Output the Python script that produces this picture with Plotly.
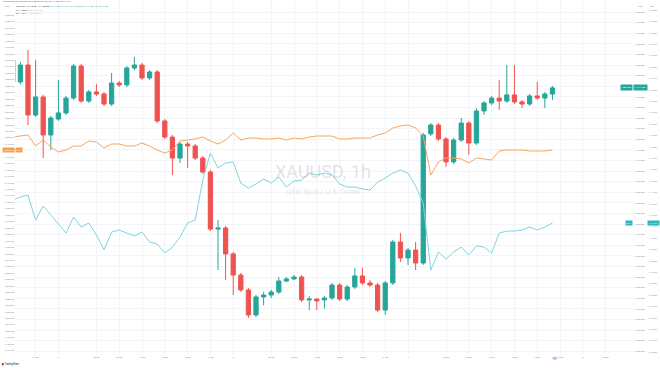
import plotly.graph_objects as go

# ---------------- data ----------------
bar_index = list(range(72))

xau_open = [1757.4, 1747.0, 1755.0, 1731.4, 1739.9, 1722.0, 1729.5, 1732.4, 1739.4, 1754.5,
            1738.0, 1742.3, 1741.3, 1736.6, 1746.5, 1745.6, 1753.6, 1755.0, 1748.9, 1751.7,
            1728.6, 1721.0, 1711.1, 1717.7, 1716.8, 1711.1, 1704.5, 1677.6, 1678.1, 1665.9,
            1655.9, 1648.9, 1637.1, 1645.6, 1646.5, 1647.9, 1653.1, 1654.1, 1655.0, 1644.2,
            1644.6, 1644.2, 1645.1, 1651.2, 1644.6, 1650.3, 1655.5, 1652.2, 1651.2, 1639.4,
            1652.2, 1671.5, 1664.0, 1667.7, 1661.6, 1722.5, 1726.7, 1720.1, 1709.3, 1719.6,
            1727.6, 1718.2, 1733.3, 1737.1, 1739.4, 1738.0, 1740.9, 1737.6, 1736.6, 1740.4,
            1739.4, 1741.3]
xau_high = [1758.5, 1756.5, 1762.1, 1757.4, 1741.0, 1731.0, 1747.9, 1740.4, 1755.5, 1755.5,
            1743.2, 1746.0, 1742.3, 1751.2, 1747.5, 1754.5, 1758.8, 1756.0, 1752.6, 1752.6,
            1729.5, 1722.0, 1718.7, 1718.7, 1717.7, 1712.1, 1705.5, 1681.9, 1679.0, 1666.8,
            1656.9, 1649.8, 1646.5, 1648.0, 1649.0, 1655.0, 1655.0, 1655.9, 1655.9, 1646.0,
            1645.1, 1646.0, 1652.2, 1652.2, 1651.2, 1659.3, 1659.3, 1653.6, 1652.2, 1653.1,
            1672.5, 1675.8, 1668.7, 1671.5, 1723.0, 1727.6, 1727.6, 1721.0, 1720.6, 1730.0,
            1728.6, 1734.7, 1738.0, 1740.4, 1747.9, 1755.0, 1755.0, 1738.5, 1741.3, 1747.0,
            1742.3, 1745.1]
xau_low = [1745.5, 1745.8, 1726.7, 1730.5, 1711.1, 1714.9, 1728.6, 1731.4, 1738.5, 1737.1,
           1737.1, 1740.4, 1735.7, 1735.7, 1744.6, 1744.6, 1752.6, 1747.9, 1747.9, 1727.6,
           1720.1, 1703.1, 1708.8, 1706.4, 1710.2, 1703.6, 1676.7, 1658.3, 1653.6, 1646.5,
           1647.9, 1635.7, 1636.1, 1641.7, 1645.0, 1647.0, 1652.6, 1653.6, 1643.2, 1639.4,
           1639.4, 1640.0, 1644.2, 1643.7, 1643.7, 1649.3, 1651.2, 1650.3, 1638.5, 1637.1,
           1651.2, 1662.1, 1660.7, 1658.3, 1660.7, 1721.5, 1719.2, 1706.9, 1708.3, 1718.7,
           1712.6, 1717.3, 1731.4, 1736.1, 1733.8, 1737.1, 1736.6, 1734.7, 1735.7, 1738.5,
           1734.7, 1738.5]
xau_close = [1747.0, 1755.0, 1731.4, 1739.9, 1722.0, 1730.0, 1732.4, 1739.4, 1754.5, 1738.0,
             1742.3, 1741.3, 1736.6, 1746.5, 1745.6, 1753.6, 1755.0, 1748.9, 1751.7, 1728.6,
             1721.0, 1711.1, 1717.7, 1716.8, 1711.1, 1704.5, 1677.6, 1678.1, 1665.9, 1655.9,
             1648.9, 1637.1, 1645.6, 1646.5, 1647.9, 1653.1, 1654.1, 1655.0, 1644.2, 1644.6,
             1643.7, 1645.1, 1651.2, 1644.6, 1650.3, 1655.5, 1652.2, 1651.2, 1639.4, 1652.2,
             1671.5, 1664.0, 1667.7, 1661.6, 1722.0, 1726.7, 1720.1, 1709.3, 1719.6, 1727.6,
             1718.2, 1733.3, 1737.1, 1739.4, 1738.0, 1740.9, 1737.6, 1736.6, 1740.4, 1739.4,
             1741.3, 1744.2]

spx_close = [3800.9, 3802.4, 3804.0, 3786.9, 3796.2, 3785.4, 3777.6, 3780.7, 3786.9, 3786.9,
             3794.7, 3793.1, 3783.8, 3790.0, 3790.0, 3786.9, 3786.9, 3791.6, 3786.9, 3780.7,
             3776.0, 3780.7, 3794.7, 3796.2, 3797.8, 3800.9, 3794.7, 3790.0, 3796.2, 3807.1,
             3796.2, 3799.3, 3799.3, 3797.8, 3797.8, 3799.3, 3796.2, 3799.3, 3797.8, 3800.9,
             3802.4, 3802.4, 3802.4, 3797.8, 3797.8, 3799.3, 3799.3, 3799.3, 3804.0, 3807.1,
             3814.8, 3817.9, 3819.5, 3814.8, 3802.4, 3741.9, 3762.1, 3768.3, 3768.3, 3766.8,
             3760.6, 3768.3, 3766.8, 3765.2, 3779.2, 3780.7, 3780.7, 3780.7, 3779.2, 3779.2,
             3779.2, 3780.7]

dxy_close = [111.333, 111.360, 111.377, 111.158, 111.281, 111.202, 111.114, 111.044, 111.184, 111.096,
             111.132, 111.026, 110.895, 111.053, 111.070, 111.044, 111.018, 111.053, 110.965, 110.947,
             110.868, 110.921, 111.009, 111.132, 111.158, 111.509, 111.746, 111.614, 111.658, 111.667,
             111.482, 111.439, 111.474, 111.518, 111.482, 111.535, 111.447, 111.500, 111.509, 111.570,
             111.553, 111.570, 111.553, 111.474, 111.447, 111.447, 111.430, 111.421, 111.491, 111.526,
             111.570, 111.596, 111.570, 111.456, 111.307, 110.719, 110.877, 110.816, 110.877, 110.921,
             110.851, 110.930, 110.921, 110.868, 111.044, 111.061, 111.061, 111.070, 111.096, 111.070,
             111.096, 111.132]

time_tick_pos = [3, 6, 11, 14, 17, 20, 23, 26, 29, 34, 37, 40, 43, 46, 49, 52,
                 57, 60, 63, 66, 69, 72, 75, 78]
time_tick_text = ["21:00", "12", "06:00", "09:00", "12:00", "15:00", "18:00", "21:00", "13",
                  "06:00", "09:00", "12:00", "15:00", "18:00", "21:00", "14",
                  "06:00", "09:00", "12:00", "15:00", "18:00", "21:00", "15", "06:00"]

# ---------------- styling ----------------
UP = "#26a69a"
DOWN = "#ef5350"
ORANGE = "#f6a660"
BLUE = "#7fd4de"
TXT = "#8a8e99"
GRID = "#f3f4f8"
FONT = "Roboto"
TS = 2.4
PH = 355.0   # plot height in px
PW = 645.0   # paper width in px

fig = go.Figure()

fig.add_trace(go.Candlestick(
    x=bar_index, open=xau_open, high=xau_high, low=xau_low, close=xau_close,
    increasing=dict(line=dict(color=UP, width=1), fillcolor=UP),
    decreasing=dict(line=dict(color=DOWN, width=1), fillcolor=DOWN),
    whiskerwidth=0, yaxis="y", name="XAUUSD", showlegend=False,
))
fig.add_trace(go.Scatter(x=bar_index, y=spx_close, mode="lines",
                         line=dict(color=ORANGE, width=1), yaxis="y2", showlegend=False))
fig.add_trace(go.Scatter(x=bar_index, y=dxy_close, mode="lines",
                         line=dict(color=BLUE, width=1), yaxis="y3", showlegend=False))

xdom_end = (633 - 15) / PW

fig.update_layout(
    template="none",
    width=660, height=368,
    margin=dict(l=15, r=0, t=0, b=13, autoexpand=False),
    paper_bgcolor="white", plot_bgcolor="white",
    font=dict(family=FONT, size=TS, color=TXT),
    showlegend=False,
    boxgap=0.2,
    xaxis=dict(
        domain=[0, xdom_end], range=[0.29, 81.6], rangeslider=dict(visible=False),
        tickmode="array", tickvals=time_tick_pos, ticktext=time_tick_text,
        showgrid=True, gridcolor=GRID, gridwidth=1, zeroline=False, showline=False,
        ticks="", tickfont=dict(size=TS, color=TXT), automargin=False,
    ),
    yaxis=dict(
        side="right", anchor="x", range=[1618.21, 1785.66],
        tickmode="array", tickvals=[1620 + 5 * k for k in range(33)],
        tickformat=",.3f", showgrid=True, gridcolor=GRID, zeroline=False,
        showline=False, ticks="", tickfont=dict(size=TS, color=TXT), automargin=False,
    ),
    yaxis2=dict(
        side="left", anchor="x", overlaying="y", range=[3462.9, 4013.26],
        tickmode="array", tickvals=[3470 + 10 * k for k in range(53)],
        tickformat=",.2f", showgrid=False, zeroline=False, showline=False,
        ticks="", tickfont=dict(size=TS, color=TXT), automargin=False,
    ),
    yaxis3=dict(
        side="right", anchor="free", overlaying="y", position=0.98,
        range=[109.974, 113.088],
        tickmode="array", tickvals=[110.0 + 0.1 * k for k in range(31)],
        tickformat=".3f", showgrid=False, zeroline=False, showline=False,
        ticks="", tickfont=dict(size=TS, color=TXT), automargin=False,
    ),
)

ann = []
# watermark
ann.append(dict(xref="paper", yref="paper", x=(323 - 15) / PW, y=1 - 171 / PH,
                text="XAUUSD, 1h", showarrow=False, xanchor="center", yanchor="middle",
                font=dict(size=18, color="rgba(150,154,165,0.28)", family=FONT)))
ann.append(dict(xref="paper", yref="paper", x=(323 - 15) / PW, y=1 - 192 / PH,
                text="Gold Spot / U.S. Dollar", showarrow=False, xanchor="center", yanchor="middle",
                font=dict(size=7.5, color="rgba(150,154,165,0.28)", family=FONT)))

# header + legend text
ann.append(dict(xref="paper", yref="paper", x=-13 / PW, y=1 - 2 / PH, yanchor="middle", xanchor="left",
                text="TradingView user published on TradingView.com, Oct 13, 2022 20:12 UTC",
                showarrow=False, borderpad=0, font=dict(size=2.1, color="#5d606b")))
ann.append(dict(xref="paper", yref="paper", x=0, y=1 - 6.5 / PH, yanchor="middle", xanchor="left",
                text=("<span style='color:#434651'>Gold Spot / U.S. Dollar · 1h · OANDA </span>"
                      f"<span style='color:{UP}'>O1,741.305 H1,745.110 L1,738.530 C1,744.150 +2.845 (+0.16%)</span>"),
                showarrow=False, borderpad=0, font=dict(size=2.1)))
ann.append(dict(xref="paper", yref="paper", x=0, y=1 - 10.3 / PH, yanchor="middle", xanchor="left",
                text=(f"<span style='color:#434651'>SPX · CBOE </span>"
                      f"<span style='color:{ORANGE}'>3,780.70 −0.08%</span>"),
                showarrow=False, borderpad=0, font=dict(size=2.1)))
ann.append(dict(xref="paper", yref="paper", x=0, y=1 - 14 / PH, yanchor="middle", xanchor="left",
                text=(f"<span style='color:#434651'>DXY · TVC </span>"
                      f"<span style='color:#5cc8d6'>111.132 +0.03%</span>"),
                showarrow=False, borderpad=0, font=dict(size=2.1)))

# currency labels on axes
for xp in [-8 / PW, (640 - 15) / PW, (652 - 15) / PW]:
    ann.append(dict(xref="paper", yref="paper", x=xp, y=1 - 7 / PH, text="USD",
                    showarrow=False, xanchor="center", yanchor="middle", borderpad=0,
                    font=dict(size=2.2, color=TXT)))

# last value labels
ann.append(dict(xref="paper", yref="y", x=xdom_end, y=xau_close[-1], text="1,744.150",
                showarrow=False, xanchor="left", yanchor="middle", bgcolor=UP,
                font=dict(size=2.4, color="white"), borderpad=0.8))
ann.append(dict(xref="paper", yref="y", x=xdom_end, y=xau_close[-1], text="XAUUSD",
                showarrow=False, xanchor="right", yanchor="middle", bgcolor=UP,
                font=dict(size=2.4, color="white"), borderpad=0.8))
ann.append(dict(xref="paper", yref="y3", x=0.98, y=dxy_close[-1], text="111.132",
                showarrow=False, xanchor="left", yanchor="middle", bgcolor="#2fb5c4",
                font=dict(size=2.4, color="white"), borderpad=0.6))
ann.append(dict(xref="paper", yref="y3", x=xdom_end, y=dxy_close[-1], text="DXY",
                showarrow=False, xanchor="right", yanchor="middle", bgcolor="#2fb5c4",
                font=dict(size=2.4, color="white"), borderpad=0.6))
ann.append(dict(xref="paper", yref="y2", x=0, y=spx_close[-1], text="3,780.70",
                showarrow=False, xanchor="right", yanchor="middle", bgcolor="#f7a046",
                font=dict(size=2.4, color="white"), borderpad=0.6))
ann.append(dict(xref="paper", yref="y2", x=0, y=spx_close[-1], text="SPX",
                showarrow=False, xanchor="left", yanchor="middle", bgcolor="#f7a046",
                font=dict(size=2.4, color="white"), borderpad=0.6))

# footer logo
ann.append(dict(xref="paper", yref="paper", x=-14 / PW, y=-(364 - PH) / PH,
                text="<b style='color:#131722'>▮</b> TradingView", showarrow=False,
                xanchor="left", yanchor="middle", borderpad=0,
                font=dict(size=2.6, color="#131722")))

fig.update_layout(annotations=ann)

fig.add_shape(type="circle", xref="x", yref="paper", x0=71.0, x1=71.6,
              y0=-5 / PH, y1=-1.5 / PH, fillcolor="#d7b3ea", line=dict(width=0))

fig.write_html("out.html", config={"displayModeBar": False},
               post_script="document.body.style.margin='0';document.body.style.overflow='hidden';")
